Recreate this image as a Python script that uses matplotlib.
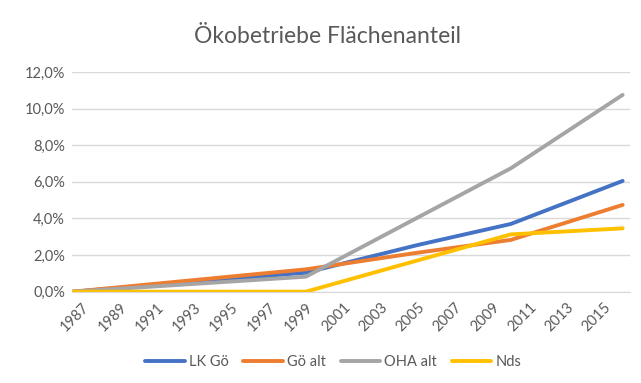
import matplotlib
matplotlib.use("Agg")
import matplotlib.pyplot as plt
from matplotlib.ticker import FuncFormatter, MultipleLocator

plt.rcParams['font.family'] = ['Lato', 'DejaVu Sans']

# Stützjahre und Flächenanteile in Prozent
jahre = [1986.5, 1999, 2005, 2010, 2016]
lk_goe = [0.0, 1.04, 2.55, 3.70, 6.05]
goe_alt = [0.0, 1.22, 2.13, 2.83, 4.74]
oha_alt = [0.0, 0.82, 4.05, 6.74, 10.75]
nds = [0.0, 0.0, 1.71, 3.13, 3.46]

reihen = [
    ("LK Gö", lk_goe, "#4472C4"),
    ("Gö alt", goe_alt, "#ED7D31"),
    ("OHA alt", oha_alt, "#A5A5A5"),
    ("Nds", nds, "#FFC000"),
]

tick_jahre = list(range(1987, 2016, 2))
textfarbe = "#595959"

fig = plt.figure(figsize=(6.41, 3.83), dpi=100)
ax = fig.add_axes([0.1123, 0.2384, 0.8707, 0.5736])

for name, werte, farbe in reihen:
    ax.plot(jahre, werte, color=farbe, lw=2.8, label=name, solid_capstyle="round")

ax.set_xlim(1986.45, 2016.4)
ax.set_ylim(0, 12)
ax.yaxis.set_major_locator(MultipleLocator(2))
ax.yaxis.set_major_formatter(FuncFormatter(lambda v, _: f"{v:.1f}%".replace(".", ",")))
ax.set_xticks(tick_jahre)
ax.set_xticklabels([str(j) for j in tick_jahre], rotation=45, ha="right",
                   va="top", rotation_mode="anchor")

ax.grid(axis="y", color="#D9D9D9", lw=1)
ax.set_axisbelow(True)
for s in ["top", "right", "left"]:
    ax.spines[s].set_visible(False)
ax.spines["bottom"].set_color("#D9D9D9")
ax.tick_params(axis="both", length=0, colors=textfarbe, labelsize=10.5)
ax.tick_params(axis="y", pad=5)
ax.tick_params(axis="x", pad=6)

fig.text(0.511, 0.905, "Ökobetriebe Flächenanteil", ha="center", va="center",
         fontsize=16.5, color=textfarbe)

fig.legend(loc="center", bbox_to_anchor=(0.52, 0.055), ncol=4, frameon=False,
           fontsize=10.5, handlelength=2.7, handletextpad=0.3, columnspacing=1.0,
           labelcolor=textfarbe)

fig.savefig("out.png", dpi=100, facecolor="white")
